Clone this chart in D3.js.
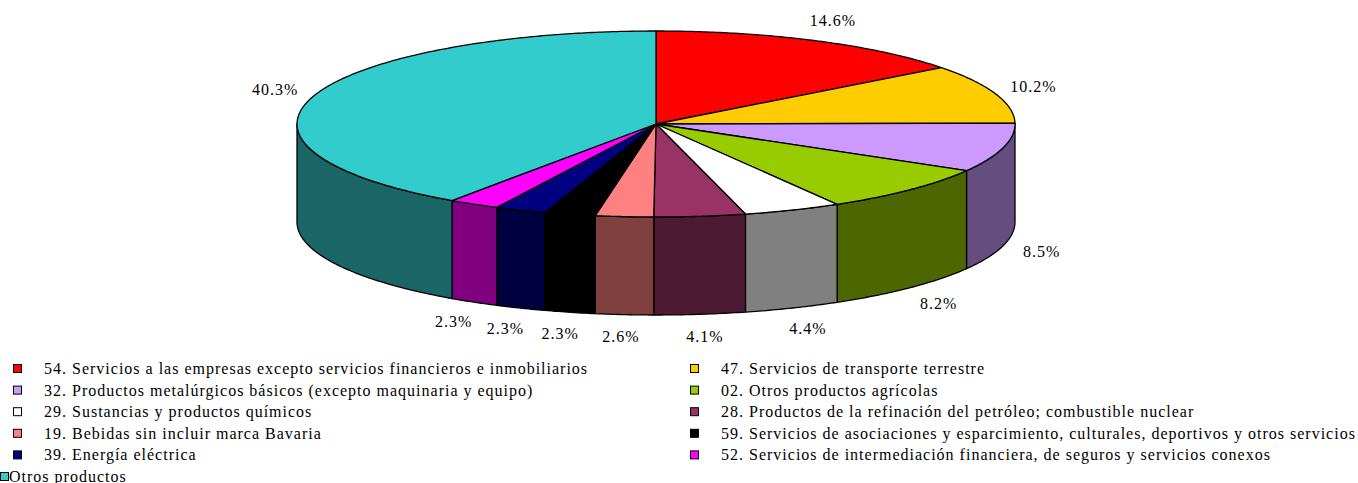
<!DOCTYPE html>
<html>
<head>
<meta charset="utf-8">
<script src="https://cdn.jsdelivr.net/npm/d3@7"></script>
<style>
  body { margin: 0; background: #fff; }
  svg { display: block; }
  text { font-family: "Liberation Serif", "Times New Roman", serif; fill: #000; letter-spacing: 1px; }
</style>
</head>
<body>
<div id="chart"></div>
<script>
// data
const categories = [
    "54. Servicios a las empresas excepto servicios financieros e inmobiliarios",
    "47. Servicios de transporte terrestre",
    "32. Productos metalúrgicos básicos (excepto maquinaria y equipo)",
    "02. Otros productos agrícolas",
    "29. Sustancias y productos químicos",
    "28. Productos de la refinación del petróleo; combustible nuclear",
    "19. Bebidas sin incluir marca Bavaria",
    "59. Servicios de asociaciones y esparcimiento, culturales, deportivos y otros servicios",
    "39. Energía eléctrica",
    "52. Servicios de intermediación financiera, de seguros y servicios conexos",
    "Otros productos"
];
const values = [14.6, 10.2, 8.5, 8.2, 4.4, 4.1, 2.6, 2.3, 2.3, 2.3, 40.3];
const colors = ["#FF0000", "#FFCC00", "#CC99FF", "#99CC00", "#FFFFFF", "#993366",
    "#FF8080", "#000000", "#000080", "#FF00FF", "#33CCCC"];

const width = 1358, height = 483;
const cx = 656, cy = 124, rx = 359, ry = 93, depth = 98;

const svg = d3.select("#chart")
    .append("svg")
    .attr("width", width)
    .attr("height", height);

const data = values.map((v, i) => ({name: categories[i], value: v, color: colors[i]}));

const pie = d3.pie()
    .sort(null)
    .value(d => d.value)
    .startAngle(0)
    .endAngle(2 * Math.PI);
const arcs = pie(data);

// point on the tilted ellipse, angle clockwise from 12 o'clock
const px = a => cx + rx * Math.sin(a);
const py = (a, dz) => cy - ry * Math.cos(a) + dz;
const line = d3.line();

function arcPoints(a0, a1, dz) {
    const n = Math.max(2, Math.ceil((a1 - a0) / 0.01));
    return d3.range(n + 1).map(i => {
        const a = a0 + (a1 - a0) * i / n;
        return [px(a), py(a, dz)];
    });
}

function darker(c) {
    const rgb = d3.rgb(c);
    return d3.rgb(rgb.r * 0.5, rgb.g * 0.5, rgb.b * 0.5).formatHex();
}

// side walls (front half only)
svg.append("g")
    .selectAll("path")
    .data(arcs.filter(d => d.endAngle > Math.PI / 2 && d.startAngle < 3 * Math.PI / 2))
    .join("path")
    .attr("d", d => {
        const a0 = Math.max(d.startAngle, Math.PI / 2);
        const a1 = Math.min(d.endAngle, 3 * Math.PI / 2);
        const pts = arcPoints(a0, a1, 0).concat(arcPoints(a0, a1, depth).reverse());
        return line(pts) + "Z";
    })
    .attr("fill", d => darker(d.data.color))
    .attr("stroke", "#000")
    .attr("stroke-width", 1.3)
    .attr("stroke-linejoin", "round");

// top faces
svg.append("g")
    .selectAll("path")
    .data(arcs)
    .join("path")
    .attr("d", d => line([[cx, cy]].concat(arcPoints(d.startAngle, d.endAngle, 0))) + "Z")
    .attr("fill", d => d.data.color)
    .attr("stroke", "#000")
    .attr("stroke-width", 1.3)
    .attr("stroke-linejoin", "round");

// percentage labels
svg.append("g")
    .selectAll("text")
    .data(arcs)
    .join("text")
    .attr("x", d => {
        const m = (d.startAngle + d.endAngle) / 2;
        return cx + (rx + 40) * Math.sin(m);
    })
    .attr("y", d => {
        const m = (d.startAngle + d.endAngle) / 2;
        return cy - (ry + 22) * Math.cos(m) + (Math.cos(m) < 0 ? depth : 0);
    })
    .attr("text-anchor", "middle")
    .attr("dominant-baseline", "central")
    .style("font-size", "16px")
    .text(d => d.data.value.toFixed(1) + "%");

// legend, two columns, last item wraps to the left edge
const legend = svg.append("g");
data.forEach((d, i) => {
    const last = i === data.length - 1;
    const col = i % 2, row = Math.floor(i / 2);
    const sx = last ? 0.5 : (col === 0 ? 13.5 : 690.5);
    const tx = last ? 9 : (col === 0 ? 44 : 721);
    const y = 368.5 + row * 21.6;
    legend.append("rect")
        .attr("x", sx).attr("y", y - 4)
        .attr("width", 8).attr("height", 8)
        .attr("fill", d.color)
        .attr("stroke", "#000")
        .attr("stroke-width", 1);
    legend.append("text")
        .attr("x", tx).attr("y", y)
        .attr("dominant-baseline", "central")
        .style("font-size", "16px")
        .text(d.name);
});
</script>
</body>
</html>
